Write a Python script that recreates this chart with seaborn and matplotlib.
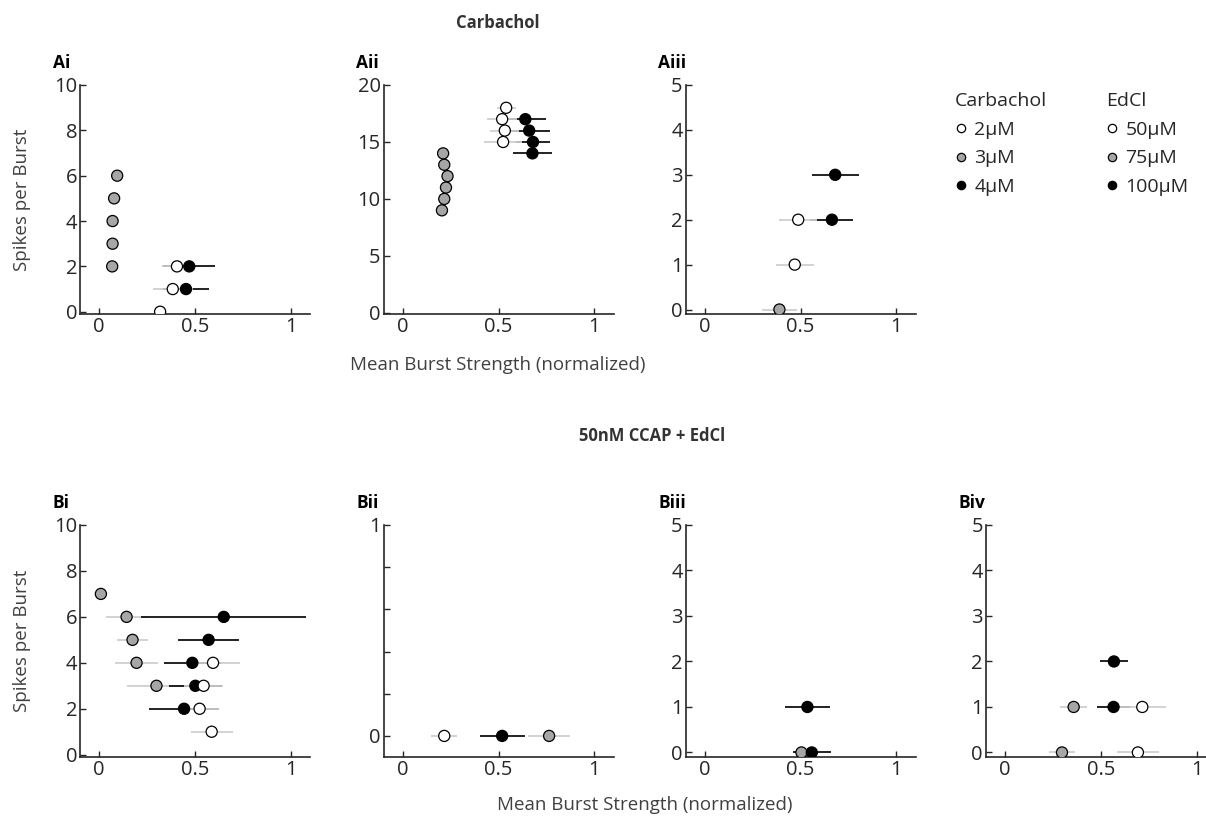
import numpy as np
import pandas as pd
import matplotlib
matplotlib.use("Agg")
import matplotlib.pyplot as plt
from matplotlib.lines import Line2D
import seaborn as sns

# ---------------- data ----------------
# level names: "low" = 2uM / 50uM (white), "mid" = 3uM / 75uM (gray), "high" = 4uM / 100uM (black)
# Panel Ai
ai_low_x = [0.318, 0.384, 0.406]; ai_low_y = [0, 1, 2]; ai_low_e = [0.02, 0.104, 0.078]
ai_mid_x = [0.068, 0.070, 0.070, 0.078, 0.094]; ai_mid_y = [2, 3, 4, 5, 6]; ai_mid_e = [0.02, 0.02, 0.02, 0.025, 0.03]
ai_high_x = [0.453, 0.470]; ai_high_y = [1, 2]; ai_high_e = [0.12, 0.135]
# Panel Aii
aii_low_x = [0.524, 0.533, 0.519, 0.540]; aii_low_y = [15, 16, 17, 18]; aii_low_e = [0.10, 0.075, 0.08, 0.05]
aii_mid_x = [0.205, 0.217, 0.226, 0.234, 0.217, 0.211]; aii_mid_y = [9, 10, 11, 12, 13, 14]; aii_mid_e = [0.02, 0.025, 0.025, 0.02, 0.02, 0.02]
aii_high_x = [0.677, 0.680, 0.660, 0.640]; aii_high_y = [14, 15, 16, 17]; aii_high_e = [0.10, 0.087, 0.107, 0.11]
# Panel Aiii
aiii_low_x = [0.470, 0.488]; aiii_low_y = [1, 2]; aiii_low_e = [0.10, 0.098]
aiii_mid_x = [0.390]; aiii_mid_y = [0]; aiii_mid_e = [0.09]
aiii_high_x = [0.664, 0.681]; aiii_high_y = [2, 3]; aiii_high_e = [0.112, 0.122]
# Panel Bi
bi_low_x = [0.587, 0.524, 0.545, 0.594]; bi_low_y = [1, 2, 3, 4]; bi_low_e = [0.11, 0.10, 0.10, 0.142]
bi_mid_x = [0.299, 0.195, 0.174, 0.143, 0.009]; bi_mid_y = [3, 4, 5, 6, 7]; bi_mid_e = [0.156, 0.11, 0.08, 0.108, 0.01]
bi_high_x = [0.443, 0.502, 0.486, 0.571, 0.650]; bi_high_y = [2, 3, 4, 5, 6]; bi_high_e = [0.183, 0.14, 0.15, 0.16, 0.43]
# Panel Bii
bii_low_x = [0.217]; bii_low_y = [0]; bii_low_e = [0.068]
bii_mid_x = [0.764]; bii_mid_y = [0]; bii_mid_e = [0.11]
bii_high_x = [0.519]; bii_high_y = [0]; bii_high_e = [0.117]
# Panel Biii
biii_mid_x = [0.505]; biii_mid_y = [0]; biii_mid_e = [0.03]
biii_high_x = [0.559, 0.536]; biii_high_y = [0, 1]; biii_high_e = [0.10, 0.118]
# Panel Biv
biv_low_x = [0.694, 0.717]; biv_low_y = [0, 1]; biv_low_e = [0.108, 0.125]
biv_mid_x = [0.298, 0.359]; biv_mid_y = [0, 1]; biv_mid_e = [0.07, 0.07]
biv_high_x = [0.567, 0.569]; biv_high_y = [1, 2]; biv_high_e = [0.084, 0.074]

carbachol_labels = ["2\u00b5M", "3\u00b5M", "4\u00b5M"]
edcl_labels = ["50\u00b5M", "75\u00b5M", "100\u00b5M"]
x_ticks = [0, 0.5, 1]
x_tick_labels = ["0", "0.5", "1"]

# ---------------- style ----------------
sns.set_theme(style="ticks")
plt.rcParams["font.family"] = ["Open Sans", "DejaVu Sans"]
plt.rcParams["axes.linewidth"] = 1.2

FILL = {"low": "#ffffff", "mid": "#a6a6a6", "high": "#000000"}
ERRC = {"low": "#cfcfcf", "mid": "#cfcfcf", "high": "#111111"}
TXT = "#262626"

W, H = 1206, 817
fig = plt.figure(figsize=(W / 100, H / 100), dpi=100)

col_left = [80, 383.5, 685.5, 985.7]
axw = 230
rowA = (85, 314)
rowB = (525, 757)


def make_ax(left, row):
    top, bot = row
    return fig.add_axes([left / W, 1 - bot / H, axw / W, (bot - top) / H])


def draw(ax, groups, ymax, yticks, ylabels=None):
    frames = []
    for lvl in ["mid", "high", "low"]:
        if lvl not in groups:
            continue
        x, y, e = groups[lvl]
        ax.errorbar(x, y, xerr=e, fmt="none", ecolor=ERRC[lvl], elinewidth=1.3,
                    capsize=0, zorder=1)
        frames.append(pd.DataFrame({"x": x, "y": y, "level": lvl}))
    df = pd.concat(frames, ignore_index=True)
    sns.scatterplot(data=df, x="x", y="y", hue="level", palette=FILL, s=64,
                    edgecolor="black", linewidth=0.9, legend=False, zorder=3, ax=ax)
    ax.set_xlim(-0.1, 1.1)
    ax.set_ylim(-0.1, ymax)
    ax.set_xticks(x_ticks)
    ax.set_xticklabels(x_tick_labels)
    ax.set_yticks(yticks)
    if ylabels is not None:
        ax.set_yticklabels(ylabels)
    ax.set_xlabel("")
    ax.set_ylabel("")
    sns.despine(ax=ax)
    for s in ["left", "bottom"]:
        ax.spines[s].set_color(TXT)
    ax.tick_params(direction="in", length=4, width=1, colors=TXT, labelsize=14.5, pad=2)


panels = [
    ("Ai", col_left[0], rowA, {"low": (ai_low_x, ai_low_y, ai_low_e), "mid": (ai_mid_x, ai_mid_y, ai_mid_e),
                               "high": (ai_high_x, ai_high_y, ai_high_e)}, 10, [0, 2, 4, 6, 8, 10], None),
    ("Aii", col_left[1], rowA, {"low": (aii_low_x, aii_low_y, aii_low_e), "mid": (aii_mid_x, aii_mid_y, aii_mid_e),
                                "high": (aii_high_x, aii_high_y, aii_high_e)}, 20, [0, 5, 10, 15, 20], None),
    ("Aiii", col_left[2], rowA, {"low": (aiii_low_x, aiii_low_y, aiii_low_e), "mid": (aiii_mid_x, aiii_mid_y, aiii_mid_e),
                                 "high": (aiii_high_x, aiii_high_y, aiii_high_e)}, 5, [0, 1, 2, 3, 4, 5], None),
    ("Bi", col_left[0], rowB, {"low": (bi_low_x, bi_low_y, bi_low_e), "mid": (bi_mid_x, bi_mid_y, bi_mid_e),
                               "high": (bi_high_x, bi_high_y, bi_high_e)}, 10, [0, 2, 4, 6, 8, 10], None),
    ("Bii", col_left[1], rowB, {"low": (bii_low_x, bii_low_y, bii_low_e), "mid": (bii_mid_x, bii_mid_y, bii_mid_e),
                                "high": (bii_high_x, bii_high_y, bii_high_e)}, 1, [0, 0.2, 0.4, 0.6, 0.8, 1],
     ["0", "", "", "", "", "1"]),
    ("Biii", col_left[2], rowB, {"mid": (biii_mid_x, biii_mid_y, biii_mid_e),
                                 "high": (biii_high_x, biii_high_y, biii_high_e)}, 5, [0, 1, 2, 3, 4, 5], None),
    ("Biv", col_left[3], rowB, {"low": (biv_low_x, biv_low_y, biv_low_e), "mid": (biv_mid_x, biv_mid_y, biv_mid_e),
                                "high": (biv_high_x, biv_high_y, biv_high_e)}, 5, [0, 1, 2, 3, 4, 5], None),
]

for name, left, row, groups, ymax, yticks, ylabels in panels:
    ax = make_ax(left, row)
    draw(ax, groups, ymax, yticks, ylabels)
    fig.text((left - 27) / W, 1 - (row[0] - 22) / H, name, fontsize=12.5, fontweight="bold",
             color="black", ha="left", va="center")

# y labels
for row in (rowA, rowB):
    fig.text(22 / W, 1 - ((row[0] + row[1]) / 2) / H, "Spikes per Burst", rotation=90,
             fontsize=13.5, color="#404040", ha="center", va="center")

# x labels
fig.text(498 / W, 1 - 365 / H, "Mean Burst Strength (normalized)", fontsize=13.5,
         color="#404040", ha="center", va="center")
fig.text(645 / W, 1 - 805 / H, "Mean Burst Strength (normalized)", fontsize=13.5,
         color="#404040", ha="center", va="center")

# titles
fig.text(498 / W, 1 - 23 / H, "Carbachol", fontsize=12, fontweight="bold", color="#333333",
         ha="center", va="center")
fig.text(652 / W, 1 - 436 / H, "50nM CCAP + EdCl", fontsize=12, fontweight="bold", color="#333333",
         ha="center", va="center")

# legends
def legend_handles():
    return [Line2D([], [], linestyle="none", marker="o", markersize=6, markerfacecolor=FILL[l],
                   markeredgecolor="black", markeredgewidth=0.9) for l in ["low", "mid", "high"]]

for title, labels, xpos in (("Carbachol", carbachol_labels, 955), ("EdCl", edcl_labels, 1106)):
    leg = fig.legend(legend_handles(), labels, title=title, loc="upper left",
                     bbox_to_anchor=(xpos / W, 1 - 92 / H), frameon=False, fontsize=14,
                     title_fontsize=14, alignment="left", handlelength=0.6, handletextpad=0.4,
                     labelspacing=0.55, borderpad=0, borderaxespad=0)
    for t in leg.get_texts():
        t.set_color(TXT)
    leg.get_title().set_color(TXT)

fig.savefig("out.png", dpi=100)
